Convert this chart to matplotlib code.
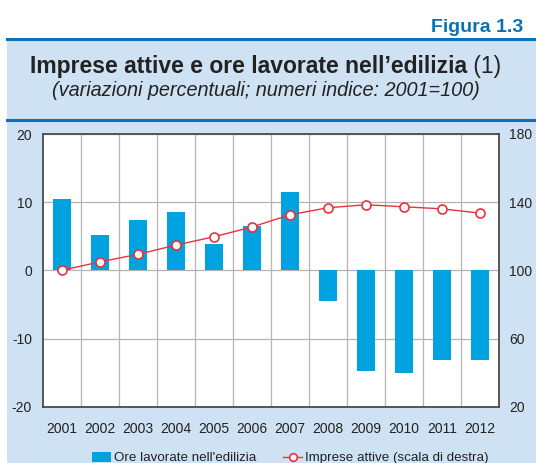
import numpy as np
import matplotlib
matplotlib.use("Agg")
import matplotlib.pyplot as plt
from matplotlib.patches import Rectangle
from matplotlib.lines import Line2D

plt.rcParams["font.family"] = ["Liberation Sans", "DejaVu Sans"]

# data
years = ["2001", "2002", "2003", "2004", "2005", "2006",
         "2007", "2008", "2009", "2010", "2011", "2012"]
ore_lavorate = [10.5, 5.2, 7.4, 8.6, 3.9, 6.5, 11.5, -4.5, -14.8, -15.1, -13.1, -13.1]
imprese_attive = [100.0, 105.0, 109.4, 114.8, 119.7, 125.4, 132.6, 136.7, 138.5, 137.3, 136.1, 133.6]

BAR = "#00a3e0"
RED = "#e8323c"
BG = "#cfe2f3"
HEAD = "#0a72b4"
GRID = "#b4b4b4"
TXT = "#222222"

W, H = 536, 463
fig = plt.figure(figsize=(W / 100, H / 100), dpi=100)

# light blue panel + header lines
fig.patches.append(Rectangle((7 / W, 0), 1, 1 - 38 / H, transform=fig.transFigure,
                             facecolor=BG, edgecolor="none", zorder=-10))
fig.add_artist(Line2D([7 / W, 1], [1 - 38.5 / H] * 2, color=HEAD, lw=2.2))
fig.add_artist(Line2D([7 / W, 1], [1 - 119.5 / H] * 2, color=HEAD, lw=2.2))

fig.text(523 / W, 1 - 32.5 / H, "Figura 1.3", ha="right", va="baseline",
         fontsize=14, fontweight="bold", color=HEAD)

# title: bold part + "(1)", centred together
t1 = fig.text(0, 1 - 73.5 / H, "Imprese attive e ore lavorate nell\u2019edilizia", ha="left",
              va="baseline", fontsize=16.5, fontweight="bold", color=TXT)
t2 = fig.text(0, 1 - 73.5 / H, " (1)", ha="left", va="baseline", fontsize=16.5, color=TXT)
fig.canvas.draw()
r = fig.canvas.get_renderer()
w1 = t1.get_window_extent(r).width
w2 = t2.get_window_extent(r).width
x0 = 265.5 - (w1 + w2) / 2
t1.set_x(x0 / W)
t2.set_x((x0 + w1) / W)

fig.text(266 / W, 1 - 96 / H, "(variazioni percentuali; numeri indice: 2001=100)",
         ha="center", va="baseline", fontsize=14.3, style="italic", color=TXT)

ax = fig.add_axes([43 / W, 56.3 / H, 455.7 / W, 272.7 / H])
ax.set_facecolor("white")
x = np.arange(len(years))
ax.bar(x, ore_lavorate, width=0.47, color=BAR, zorder=3)
ax.set_xlim(-0.5, len(years) - 0.5)
ax.set_ylim(-20, 20)
ax.set_yticks([-20, -10, 0, 10, 20])
ax.set_yticklabels(["-20", "-10", "0", "10", "20"])
ax.set_xticks(x)
ax.set_xticklabels(years)
ax.set_xticks(np.arange(0.5, len(years) - 1, 1), minor=True)
ax.grid(True, axis="x", which="minor", color=GRID, lw=0.9, zorder=1)
ax.grid(True, axis="y", which="major", color=GRID, lw=0.9, zorder=1)
ax.tick_params(axis="both", which="both", length=0, labelsize=10, colors=TXT)
ax.tick_params(axis="x", pad=11)
ax.tick_params(axis="y", pad=8)
for s in ax.spines.values():
    s.set_color("#4a4a4a")
    s.set_linewidth(1.3)
    s.set_zorder(5)

ax2 = ax.twinx()
ax2.plot(x, imprese_attive, color=RED, lw=1.0, marker="o", ms=6.5,
         mfc="white", mec=RED, mew=1.2, zorder=4)
ax2.set_ylim(20, 180)
ax2.set_yticks([20, 60, 100, 140, 180])
ax2.tick_params(axis="y", length=0, labelsize=10, colors=TXT, pad=7.5)
for s in ax2.spines.values():
    s.set_visible(False)

handles = [
    Rectangle((0, 0), 1, 1, facecolor=BAR, edgecolor="none"),
    Line2D([], [], color=RED, lw=1.0, marker="o", ms=5.5, mfc="white", mec=RED, mew=1.2),
]
fig.legend(handles, ["Ore lavorate nell'edilizia", "Imprese attive (scala di destra)"],
           loc="center left", bbox_to_anchor=(80 / W, 1 - 458 / H), ncol=2, frameon=False,
           fontsize=9.6, handlelength=1.45, handleheight=0.75, handletextpad=0.2,
           columnspacing=2.0, labelcolor=TXT)

fig.savefig("out.png", dpi=100)
